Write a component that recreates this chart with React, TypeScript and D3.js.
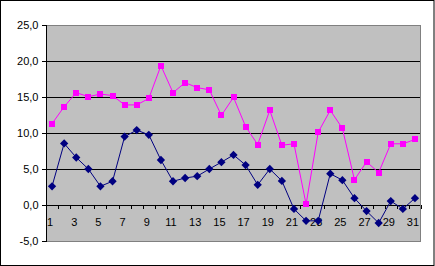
import React from "react";
import * as d3 from "d3";

const days = d3.range(1, 32);
const magentaValues = [11.3, 13.65, 15.6, 15.05, 15.4, 15.2, 13.9, 13.9, 14.8, 19.35, 15.6, 17.0, 16.3, 16.0, 12.45, 14.95, 10.9, 8.4, 13.15, 8.3, 8.5, 0.1, 10.1, 13.15, 10.65, 3.5, 6.0, 4.5, 8.5, 8.5, 9.1];
const navyValues = [2.6, 8.55, 6.6, 5.0, 2.6, 3.3, 9.5, 10.4, 9.75, 6.25, 3.3, 3.75, 4.0, 5.0, 5.95, 6.95, 5.55, 2.8, 5.0, 3.35, -0.55, -2.2, -2.2, 4.35, 3.45, 0.95, -0.85, -2.5, 0.55, -0.55, 0.95];
const yTicks = [-5, 0, 5, 10, 15, 20, 25];
const xLabels = days.filter((d) => d % 2 === 1);

const W = 435;
const H = 266;
const left = 46;
const right = 421;
const top = 25;
const bottom = 241;

export default function App() {
  const x = d3.scaleBand<number>().domain(days).range([left, right]);
  const y = d3.scaleLinear().domain([-5, 25]).range([bottom, top]);
  const cx = (d: number) => (x(d) as number) + x.bandwidth() / 2;
  const line = d3
    .line<number>()
    .x((_, i) => cx(days[i]))
    .y((v) => y(v));
  const fmt = (v: number) => v.toFixed(1).replace(".", ",");
  const font = "'Liberation Sans', Arial, sans-serif";
  const boundaries = d3.range(0, 32).map((i) => left + i * x.step());
  const diamond = d3.symbol(d3.symbolDiamond2 ?? d3.symbolDiamond, 44);
  const px = (v: number) => Math.round(v) + 0.5;

  return (
    <div style={{ position: "absolute", left: 0, top: 0 }}>
      <svg width={W} height={H} style={{ display: "block" }}>
        <rect x={0} y={0} width={W} height={H} fill="#fff" />
        <rect x={0.5} y={0.5} width={W - 1.5} height={H - 1} fill="none" stroke="#000" />
        <rect x={left + 0.5} y={top + 0.5} width={right - left - 1} height={bottom - top} fill="#C0C0C0" stroke="#808080" />
        {yTicks
          .filter((t) => t > -5 && t < 25)
          .map((t) => (
            <line key={t} x1={left} x2={right - 1} y1={px(y(t))} y2={px(y(t))} stroke="#000" />
          ))}
        <line x1={px(left)} x2={px(left)} y1={top} y2={bottom + 1} stroke="#000" />
        {yTicks.map((t) => (
          <line key={"yt" + t} x1={left - 4} x2={left} y1={px(y(t))} y2={px(y(t))} stroke="#000" />
        ))}
        {boundaries.map((b, i) => (
          <line key={i} x1={px(b)} x2={px(b)} y1={Math.round(y(0))} y2={Math.round(y(0)) + 4} stroke="#000" />
        ))}
        {yTicks.map((t) => (
          <text key={t} x={38.5} y={y(t) + 4} textAnchor="end" fontSize={11} fontFamily={font} fill="#000">
            {fmt(t)}
          </text>
        ))}
        {xLabels.map((d) => (
          <text key={d} x={cx(d) - 2} y={225.5} textAnchor="middle" fontSize={11} fontFamily={font} fill="#000">
            {d}
          </text>
        ))}
        <path d={line(magentaValues) || ""} fill="none" stroke="#FF00FF" strokeWidth={1} />
        {magentaValues.map((v, i) => (
          <rect key={i} x={Math.round(cx(days[i]) - 3)} y={Math.round(y(v) - 3)} width={6} height={6} fill="#FF00FF" />
        ))}
        <path d={line(navyValues) || ""} fill="none" stroke="#000080" strokeWidth={1} />
        {navyValues.map((v, i) => (
          <path key={i} d={diamond() || ""} transform={`translate(${cx(days[i])},${y(v)})`} fill="#000080" />
        ))}
      </svg>
    </div>
  );
}
